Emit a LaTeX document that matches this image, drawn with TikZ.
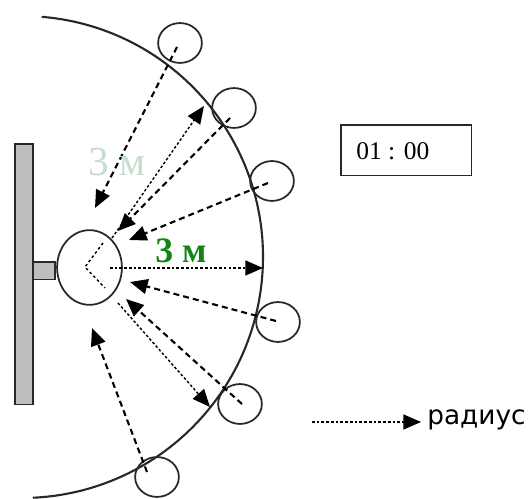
\documentclass[tikz,border=0pt]{standalone}
\usepackage{fontspec}
\setmainfont{Liberation Serif}
\newfontfamily\legendfont{DejaVu Sans}
\usetikzlibrary{arrows.meta,shapes.geometric}
\definecolor{wallgray}{RGB}{190,190,190}
\definecolor{labgreen}{RGB}{20,130,20}
\definecolor{fadegreen}{RGB}{195,222,205}
\definecolor{ink}{RGB}{40,40,40}
\tikzset{
  arcline/.style={line width=1.2pt, draw=ink},
  spot/.style={ellipse, draw=ink, line width=1pt, minimum width=24.9pt, minimum height=22.7pt, inner sep=0pt},
  pass/.style={line width=1.2pt, dash pattern=on 3.4pt off 2.3pt, -{Triangle[length=10pt,width=8.5pt]}},
  radline/.style={line width=0.8pt, dash pattern=on 1.5pt off 1.2pt, -{Triangle[length=10pt,width=8.5pt]}},
  innerline/.style={line width=0.8pt, dash pattern=on 1.5pt off 1.5pt},
}
\begin{document}
\begin{tikzpicture}[x=0.02cm,y=-0.02cm]
\useasboundingbox (0,0) rectangle (531,499);
% wall and bracket
\node (wall) [draw=ink, fill=wallgray, line width=0.9pt, minimum width=10.2pt, minimum height=148.5pt, inner sep=0pt, anchor=north west] at (14,143) {};
\node (bracket) [draw=ink, fill=wallgray, line width=0.9pt, minimum width=12.5pt, minimum height=10.2pt, inner sep=0pt, anchor=north west] at (32,261) {};
% arc
\draw[arcline] (22,257) ++(-85.3:241) arc[start angle=-85.3, end angle=87.4, radius=241];
% player
\node (p) [ellipse, draw=ink, line width=1pt, minimum width=36.9pt, minimum height=42.5pt, inner sep=0pt] at (89.5,267.5) {};
\coordinate (pv) at (85,267);
\coordinate (pu) at (103,243);
\coordinate (pd) at (105,288);
\draw[innerline] (pu) -- (pv) -- (pd);
% spots
\node (c1) [spot] at (180,43) {};
\node (c2) [spot] at (234,108) {};
\node (c3) [spot] at (272,181) {};
\node (c4) [spot] at (278,322) {};
\node (c5) [spot] at (240,404) {};
\node (c6) [spot] at (157,477) {};
% start points
\coordinate (s1) at (177,47);
\coordinate (s2) at (230,118);
\coordinate (s3) at (268,183);
\coordinate (s4) at (276,321);
\coordinate (s5) at (242,404);
\coordinate (s6) at (147,472);
% tips
\coordinate (t1) at (95,208);
\coordinate (t2) at (118,231);
\coordinate (t3) at (129,240);
\coordinate (t4) at (130,282);
\coordinate (t5) at (126,299);
\coordinate (t6) at (92,328);
\coordinate (d1a) at (112,238);
\coordinate (d1b) at (204,106);
\coordinate (d2a) at (118,303);
\coordinate (d2b) at (210,407);
\coordinate (r0) at (110,268);
\coordinate (r1) at (263,268);
% passes
\draw[pass] (s1) -- (t1);
\draw[pass] (s2) -- (t2);
\draw[pass] (s3) -- (t3);
\draw[pass] (s4) -- (t4);
\draw[pass] (s5) -- (t5);
\draw[pass] (s6) -- (t6);
\draw[radline] (d1a) -- (d1b);
\draw[radline] (d2a) -- (d2b);
\draw[radline] (r0) -- (r1);
% labels
\node (lab3m) [text=labgreen, font=\fontsize{20.4pt}{22pt}\selectfont\bfseries, inner sep=0pt] at (181,251) {3 м};
\node (fade3m) [text=fadegreen, font=\fontsize{23.5pt}{25pt}\selectfont, inner sep=0pt] at (117,162) {3 м};
% clock
\node (clock) [draw=ink, line width=0.9pt, minimum width=74.3pt, minimum height=28.9pt, inner sep=0pt, anchor=north west] at (340,124) {};
\node (clocktext) [anchor=west, inner sep=0pt, font=\fontsize{14.5pt}{16pt}\selectfont] at (356,151) {01 : 00};
% legend
\coordinate (l0) at (312,422);
\coordinate (l1) at (421,422);
\node (legtext) [anchor=west, inner sep=0pt, font=\legendfont\fontsize{15pt}{16pt}\selectfont] at (427,420) {радиус};
\draw[radline] (l0) -- (l1);
\end{tikzpicture}
\end{document}
